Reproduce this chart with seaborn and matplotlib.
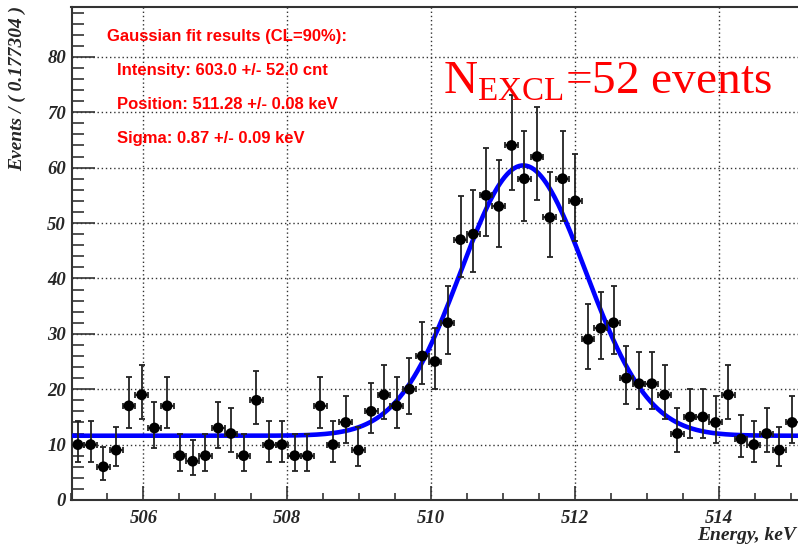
import numpy as np
import pandas as pd
import matplotlib
matplotlib.use("Agg")
import matplotlib.pyplot as plt
from matplotlib.ticker import MultipleLocator
import seaborn as sns

# histogram of energies, 57 bins starting at 505 keV
e_start = 505.0
bin_width = 0.177304
counts = [10, 10, 6, 9, 17, 19, 13, 17, 8, 7, 8, 13, 12, 8, 18, 10, 10, 8, 8,
          17, 10, 14, 9, 16, 19, 17, 20, 26, 25, 32,
          47, 48, 55, 53, 64, 58, 62, 51, 58, 54,
          29, 31, 32, 22, 21, 21, 19, 12, 15, 15, 14, 19, 11, 10, 12, 9, 14]

fit_pos = 511.28
fit_sigma = 0.87
fit_peak = 60.4
fit_bg = 11.6

fit_lines = ["Gaussian fit results (CL=90%):",
             "Intensity: 603.0 +/- 52.0 cnt",
             "Position: 511.28 +/- 0.08 keV",
             "Sigma: 0.87 +/- 0.09 keV"]

n = np.array(counts, dtype=float)
centers = e_start + (np.arange(len(n)) + 0.5) * bin_width
# poisson (gehrels) intervals like RooFit draws them
lo = n * (1 - 1 / (9 * n) - 1 / (3 * np.sqrt(n))) ** 3
hi = n + np.sqrt(n + 0.75) + 1
df = pd.DataFrame({"energy": centers, "events": n})

xf = np.linspace(e_start, e_start + len(n) * bin_width, 600)
yf = fit_bg + (fit_peak - fit_bg) * np.exp(-0.5 * ((xf - fit_pos) / fit_sigma) ** 2)
fit = pd.DataFrame({"energy": xf, "events": yf})

sns.set_style("white")
serif = ["Liberation Serif", "DejaVu Serif"]

fig = plt.figure(figsize=(7.98, 5.46), dpi=100)
ax = fig.add_axes([71.5 / 798, 46 / 546, 727 / 798, 493 / 546])

ax.grid(True, which="major", linestyle=(0, (1, 2)), color="#333333", linewidth=1)
ax.set_axisbelow(True)

sns.lineplot(data=fit, x="energy", y="events", ax=ax, color="#0000ff", linewidth=3.3, zorder=3)
ax.errorbar(centers, n, yerr=[n - lo, hi - n], xerr=bin_width / 2, fmt="none",
            ecolor="#222222", elinewidth=1.3, capsize=2.5, capthick=1.3, zorder=4)
sns.scatterplot(data=df, x="energy", y="events", ax=ax, color="black", s=60,
                edgecolor="none", zorder=5)

ax.set_xlim(e_start, e_start + len(n) * bin_width)
ax.set_ylim(0, 89)
ax.xaxis.set_major_locator(MultipleLocator(2))
ax.xaxis.set_minor_locator(MultipleLocator(0.5))
ax.yaxis.set_major_locator(MultipleLocator(10))
ax.yaxis.set_minor_locator(MultipleLocator(2))
ax.tick_params(left=True, bottom=True, top=False, right=False, which="both")
ax.tick_params(axis="y", which="major", direction="in", length=16.5, width=1.2, pad=4, color="#333333")
ax.tick_params(axis="y", which="minor", direction="in", length=8.5, width=1.2, color="#333333")
ax.tick_params(axis="x", which="major", direction="in", length=10, width=1.2, pad=7, color="#333333")
ax.tick_params(axis="x", which="minor", direction="in", length=5, width=1.2, color="#333333")
for lab in ax.get_xticklabels() + ax.get_yticklabels():
    lab.set_family(serif)
    lab.set_fontweight("bold")
    lab.set_fontstyle("italic")
    lab.set_fontsize(13.5)
ax.set_xlabel("")
ax.set_ylabel("")

for s in ["left", "bottom", "top"]:
    ax.spines[s].set_color("#333333")
    ax.spines[s].set_linewidth(1.5)
ax.spines["right"].set_visible(False)

fig.text(17 / 798, 1 - 6 / 546, "Events / ( 0.177304 )", rotation=90, ha="center", va="top",
         family=serif, fontweight="bold", fontstyle="italic", fontsize=14)
fig.text(796 / 798, 1 - 535 / 546, "Energy, keV", ha="right", va="center",
         family=serif, fontweight="bold", fontstyle="italic", fontsize=14)

sans = ["Liberation Sans", "DejaVu Sans"]
fig.text(107 / 798, 1 - 36 / 546, fit_lines[0], color="#ff0000", family=sans,
         fontweight="bold", fontsize=12, va="center")
for i, line in enumerate(fit_lines[1:]):
    fig.text(117 / 798, 1 - (71 + i * 33.5) / 546, line, color="#ff0000", family=sans,
             fontweight="bold", fontsize=12, va="center")

fig.text(443 / 798, 1 - 93 / 546, r"N$_{\mathregular{EXCL}}$=52 events", color="#ff0000",
         family=serif, fontsize=34, va="baseline")

fig.savefig("out.png", dpi=100)
